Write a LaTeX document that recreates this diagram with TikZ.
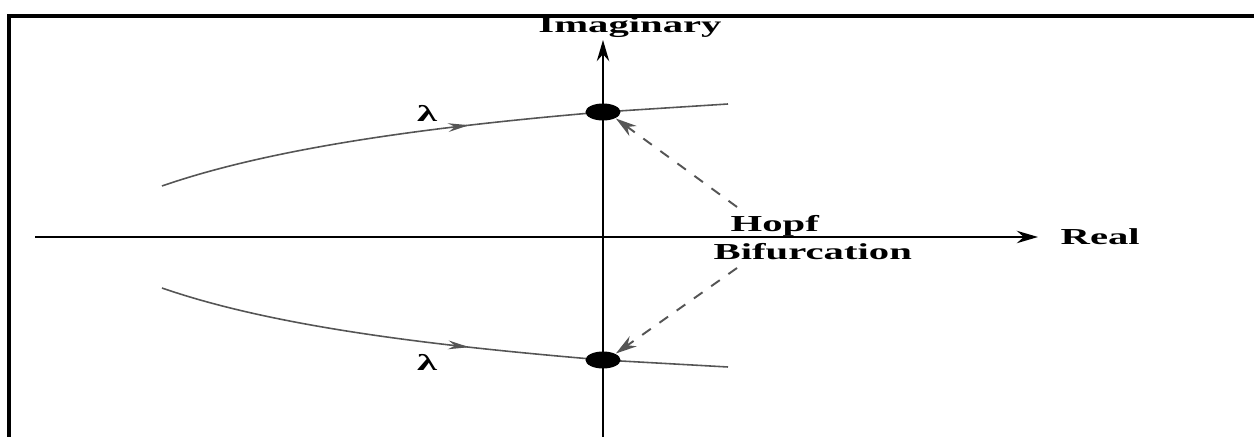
\documentclass[tikz,border=0pt]{standalone}
\usepackage{fontspec}
\setmainfont{Liberation Serif}
\usetikzlibrary{arrows.meta, shapes.geometric, decorations.markings}
\definecolor{curveGrey}{HTML}{555555}
\newcommand{\widetext}[1]{\scalebox{1.78}[1]{#1}}

\begin{document}
\begin{tikzpicture}[x=0.01cm, y=-0.01cm, every node/.style={font=\bfseries\fontsize{6.5}{8}\selectfont, inner sep=0pt},
      axis/.style={line width=0.7pt, -{Stealth[length=6pt, width=3.5pt]}},
      locus/.style={curveGrey, line width=0.45pt},
      midarrow/.style={postaction={decorate, decoration={markings,
            mark=at position #1 with {\arrow{Stealth[length=6pt, width=2.5pt]}}}}},
      eigdot/.style={ellipse, fill=black, inner sep=0pt, minimum width=0.35cm, minimum height=0.17cm},
      hopfarrow/.style={dashed, curveGrey, line width=0.55pt, -{Stealth[length=6pt, width=3.5pt]}}]
      \useasboundingbox (0,0) rectangle (1254,437);
      % Frame
      \draw[line width=0.9pt] (9,437) -- (9,16) -- (1254,16);

      % Axes
      \coordinate (xstart) at (35,237);
      \coordinate (xend) at (1038,237);
      \coordinate (ystart) at (603,437);
      \coordinate (yend) at (603,40);
      \draw[axis] (xstart) -- (xend);
      \draw[axis] (ystart) -- (yend);
      \node[anchor=base west] (real) at (1060,245) {\widetext{Real}};
      \node[anchor=base] (imag) at (630,33) {\widetext{Imaginary}};

      % Eigenvalue loci
      \coordinate (critup) at (603,112);
      \coordinate (critlow) at (603,360);
      \draw[locus, midarrow=0.70] (162,186) .. controls (280,145) and (450,125) .. (critup);
      \draw[locus] (critup) -- (728,104);
      \draw[locus, midarrow=0.70] (162,288) .. controls (280,329) and (450,347) .. (critlow);
      \draw[locus] (critlow) -- (728,367);
      \node[eigdot] (dotup) at (critup) {};
      \node[eigdot] (dotlow) at (critlow) {};
      \node (lamup) at (427,113) {\widetext{λ}};
      \node (lamlow) at (427,362) {\widetext{λ}};

      % Hopf label
      \node[anchor=base west] (hopf) at (730,232) {\widetext{Hopf}};
      \node[anchor=base west] (bif) at (713,260) {\widetext{Bifurcation}};
      \coordinate (hopfup) at (737,207);
      \coordinate (hopflow) at (737,268);
      \draw[hopfarrow] (hopfup) -- (dotup.south east);
      \draw[hopfarrow] (hopflow) -- (dotlow.north east);
\end{tikzpicture}
\end{document}
